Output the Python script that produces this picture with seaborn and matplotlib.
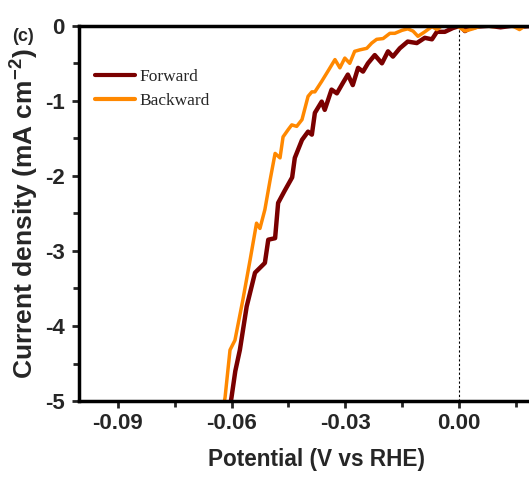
import pandas as pd
import matplotlib.pyplot as plt
import seaborn as sns

# Potential (V vs RHE) and current density (mA cm^-2)
fwd_potential = [-0.0605, -0.0600, -0.0590, -0.0578, -0.0560, -0.0538, -0.0512, -0.0503,
                 -0.0485, -0.0477, -0.0460, -0.0440, -0.0433, -0.0414, -0.0398, -0.0388,
                 -0.0380, -0.0362, -0.0354, -0.0336, -0.0322, -0.0306, -0.0293, -0.0280,
                 -0.0266, -0.0253, -0.0240, -0.0222, -0.0203, -0.0187, -0.0174, -0.0156,
                 -0.0135, -0.0111, -0.0090, -0.0071, -0.0058, -0.0037, -0.0016, 0.0003,
                 0.0016, 0.0030, 0.0050, 0.0080, 0.0110, 0.0140, 0.0170, 0.0200]
fwd_current = [-5.10, -4.95, -4.60, -4.32, -3.74, -3.29, -3.16, -2.85,
               -2.83, -2.36, -2.20, -2.02, -1.76, -1.52, -1.41, -1.45,
               -1.16, -1.01, -1.12, -0.85, -0.90, -0.76, -0.65, -0.79,
               -0.56, -0.61, -0.50, -0.39, -0.50, -0.34, -0.41, -0.30,
               -0.21, -0.23, -0.16, -0.18, -0.08, -0.08, -0.03, 0.00,
               -0.07, -0.03, -0.01, 0.00, -0.02, 0.00, -0.01, 0.00]

bwd_potential = [-0.0622, -0.0617, -0.0604, -0.0591, -0.0570, -0.0551, -0.0534, -0.0525,
                 -0.0512, -0.0498, -0.0485, -0.0472, -0.0464, -0.0450, -0.0441, -0.0428,
                 -0.0414, -0.0398, -0.0388, -0.0380, -0.0362, -0.0345, -0.0327, -0.0314,
                 -0.0301, -0.0288, -0.0275, -0.0261, -0.0243, -0.0230, -0.0217, -0.0200,
                 -0.0182, -0.0169, -0.0150, -0.0135, -0.0121, -0.0108, -0.0090, -0.0071,
                 -0.0058, -0.0045, -0.0030, -0.0005, 0.0016, 0.0037, 0.0060, 0.0090,
                 0.0120, 0.0145, 0.0160, 0.0175, 0.0200]
bwd_current = [-5.10, -4.95, -4.32, -4.19, -3.65, -3.12, -2.63, -2.70,
               -2.45, -2.05, -1.70, -1.76, -1.48, -1.38, -1.32, -1.34,
               -1.25, -0.94, -0.88, -0.88, -0.74, -0.60, -0.45, -0.56,
               -0.43, -0.50, -0.34, -0.32, -0.30, -0.23, -0.18, -0.17,
               -0.10, -0.10, -0.06, -0.04, -0.07, -0.14, -0.08, -0.01,
               -0.05, 0.00, 0.00, 0.00, -0.07, -0.04, 0.00, -0.01,
               0.00, -0.01, -0.05, 0.00, 0.00]

df = pd.concat([
    pd.DataFrame({"potential": fwd_potential, "current": fwd_current, "scan": "Forward"}),
    pd.DataFrame({"potential": bwd_potential, "current": bwd_current, "scan": "Backward"}),
])

sns.set_style("ticks")
plt.rcParams['font.family'] = ['Liberation Sans', 'DejaVu Sans']
plt.rcParams['mathtext.fontset'] = 'custom'
plt.rcParams['mathtext.bf'] = 'Liberation Sans:bold'

fig = plt.figure(figsize=(5.29, 4.78), dpi=100)
# axes run a bit past the right edge of the picture (cropped like the original)
ax = fig.add_axes([0.149, 0.161, 0.8975, 0.785])

sns.lineplot(data=df, x="potential", y="current", hue="scan", sort=False,
             palette={"Forward": "#7a0000", "Backward": "#ff8800"},
             linewidth=2.5, ax=ax, estimator=None)
ax.lines[0].set_linewidth(3.2)

ax.axvline(0, color="black", linestyle=(0, (2, 2)), linewidth=0.8, zorder=0)

ax.set_xlim(-0.1003, 0.025)
ax.set_ylim(-5, 0)
ax.set_xticks([-0.09, -0.06, -0.03, 0.00])
ax.set_xticks([-0.075, -0.045, -0.015, 0.015], minor=True)
ax.set_xticklabels(["-0.09", "-0.06", "-0.03", "0.00"])
ax.set_yticks([0, -1, -2, -3, -4, -5])
ax.set_yticks([-0.5, -1.5, -2.5, -3.5, -4.5], minor=True)
ax.set_yticklabels(["0", "-1", "-2", "-3", "-4", "-5"])

for side in ["left", "bottom", "top"]:
    ax.spines[side].set_linewidth(2.5)
    ax.spines[side].set_color("black")
ax.spines["right"].set_visible(False)
ax.tick_params(which="major", length=5, width=2, labelsize=16, direction="out")
ax.tick_params(axis="y", which="major", pad=5)
ax.tick_params(which="minor", length=4, width=2, direction="out")
for lab in ax.get_xticklabels() + ax.get_yticklabels():
    lab.set_fontweight("bold")

ax.set_xlabel("Potential (V vs RHE)", fontsize=16.3, fontweight="bold", labelpad=10)
ax.set_ylabel("Current density (mA cm$^{\\mathbf{-2}}$)", fontsize=19, fontweight="bold", labelpad=4)

leg = ax.legend(loc="upper left", bbox_to_anchor=(0.034, 0.884), frameon=False,
                prop={"family": "Liberation Serif", "size": 12.5},
                borderaxespad=0, borderpad=0,
                handlelength=2.3, handletextpad=0.25, labelspacing=0.4)
for h in leg.get_lines():
    h.set_linewidth(3)

fig.text(0.022, 0.915, "(c)", fontsize=13, fontweight="bold")

fig.savefig("out.png", dpi=100)
